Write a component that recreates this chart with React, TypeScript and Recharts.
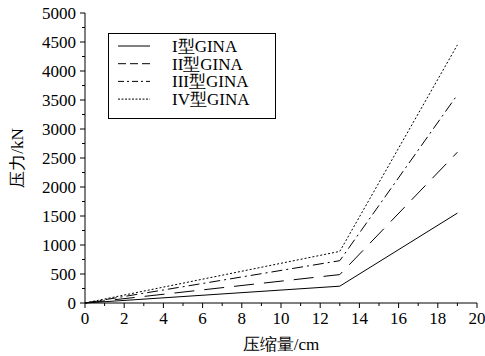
import { Legend, Line, LineChart, XAxis, YAxis } from "recharts";

// compression (cm) and pressure (kN)
const compression = [0, 13, 19];
const typeI = [0, 290, 1550];
const typeII = [0, 490, 2600];
const typeIII = [0, 730, 3590];
const typeIV = [0, 890, 4450];

const seriesNames = ["I型GINA", "II型GINA", "III型GINA", "IV型GINA"];
const seriesKeys = ["t1", "t2", "t3", "t4"];
const plotDash = ["", "20 10", "11 4 2 4", "2 2"];
const legendDash = ["", "8 4", "6 3 2 3", "2 1.5"];

const xTicks = [0, 1, 2, 3, 4, 5, 6, 7, 8, 9, 10, 11, 12, 13, 14, 15, 16, 17, 18, 19, 20];
const yTicks = [
  0, 250, 500, 750, 1000, 1250, 1500, 1750, 2000, 2250, 2500, 2750, 3000, 3250, 3500, 3750, 4000,
  4250, 4500, 4750, 5000,
];

const data = compression.map((x, i) => ({
  x,
  t1: typeI[i],
  t2: typeII[i],
  t3: typeIII[i],
  t4: typeIV[i],
}));

const FONT = "Liberation Serif";
const FS = 17;
const txt = { fontFamily: FONT, fontSize: FS, fill: "#000" };

function BottomTick({ x, y, payload }: any) {
  const major = payload.value % 2 === 0;
  return (
    <g>
      <line x1={x} x2={x} y1={y} y2={y + (major ? 5 : 3)} stroke="#000" />
      {major && (
        <text x={x} y={y + 21} textAnchor="middle" style={txt}>
          {payload.value}
        </text>
      )}
    </g>
  );
}

function TopTick({ x, y, payload }: any) {
  const major = payload.value % 2 === 0;
  return <line x1={x} x2={x} y1={y} y2={y + (major ? 5 : 3)} stroke="#000" />;
}

function LeftTick({ x, y, payload }: any) {
  const major = payload.value % 500 === 0;
  return (
    <g>
      <line x1={x} x2={x - (major ? 5 : 3)} y1={y} y2={y} stroke="#000" />
      {major && (
        <text x={x - 9} y={y + 6} textAnchor="end" style={txt}>
          {payload.value}
        </text>
      )}
    </g>
  );
}

function RightTick({ x, y, payload }: any) {
  const major = payload.value % 500 === 0;
  return <line x1={x} x2={x - (major ? 5 : 3)} y1={y} y2={y} stroke="#000" />;
}

function LegendBox() {
  return (
    <svg width={168} height={86}>
      <rect x={0.5} y={0.5} width={167} height={85} fill="#fff" stroke="#000" />
      {seriesNames.map((name, i) => {
        const cy = 13 + i * 17.7;
        return (
          <g key={name}>
            <line x1={10} x2={42} y1={cy} y2={cy} stroke="#000" strokeDasharray={legendDash[i] || undefined} />
            <text x={64} y={cy + 6} style={txt}>
              {name}
            </text>
          </g>
        );
      })}
    </svg>
  );
}

export default function App() {
  return (
    <div style={{ position: "absolute", left: 0, top: 0, background: "#fff", fontFamily: FONT }}>
      <LineChart width={485} height={356} data={data} margin={{ top: 13, right: 8, bottom: 0, left: 0 }}>
        <XAxis
          dataKey="x"
          type="number"
          domain={[0, 20]}
          ticks={xTicks}
          interval={0}
          tickSize={0}
          tickMargin={0}
          tickLine={false}
          tick={<BottomTick />}
          height={53}
          axisLine={{ stroke: "#000" }}
          label={{
            content: ({ viewBox }: any) => (
              <text x={viewBox.x + viewBox.width / 2} y={viewBox.y + 47} textAnchor="middle" style={txt}>
                压缩量/cm
              </text>
            ),
          }}
        />
        <XAxis
          xAxisId="top"
          orientation="top"
          dataKey="x"
          type="number"
          domain={[0, 20]}
          ticks={xTicks}
          interval={0}
          tickSize={0}
          tickMargin={0}
          tickLine={false}
          tick={<TopTick />}
          height={0}
          axisLine={{ stroke: "#000" }}
        />
        <YAxis
          type="number"
          domain={[0, 5000]}
          ticks={yTicks}
          interval={0}
          tickSize={0}
          tickMargin={0}
          tickLine={false}
          tick={<LeftTick />}
          width={85}
          axisLine={{ stroke: "#000" }}
          label={{
            content: ({ viewBox }: any) => {
              const cx = viewBox.x + 17;
              const cy = viewBox.y + viewBox.height / 2;
              return (
                <text
                  x={cx}
                  y={cy}
                  transform={`rotate(-90, ${cx}, ${cy})`}
                  textAnchor="middle"
                  dominantBaseline="central"
                  style={txt}
                >
                  压力/kN
                </text>
              );
            },
          }}
        />
        <YAxis
          yAxisId="right"
          orientation="right"
          type="number"
          domain={[0, 5000]}
          ticks={yTicks}
          interval={0}
          tickSize={0}
          tickMargin={0}
          tickLine={false}
          tick={<RightTick />}
          width={0}
          axisLine={{ stroke: "#000" }}
        />
        <Legend
          layout="vertical"
          align="center"
          verticalAlign="middle"
          wrapperStyle={{ left: 108, top: 33, width: 168, height: 86 }}
          content={() => <LegendBox />}
        />
        {seriesKeys.map((k, i) => (
          <Line
            key={k}
            type="linear"
            dataKey={k}
            name={seriesNames[i]}
            stroke="#000"
            strokeWidth={1}
            strokeDasharray={plotDash[i] || undefined}
            dot={false}
            activeDot={false}
            isAnimationActive={false}
          />
        ))}
      </LineChart>
    </div>
  );
}
